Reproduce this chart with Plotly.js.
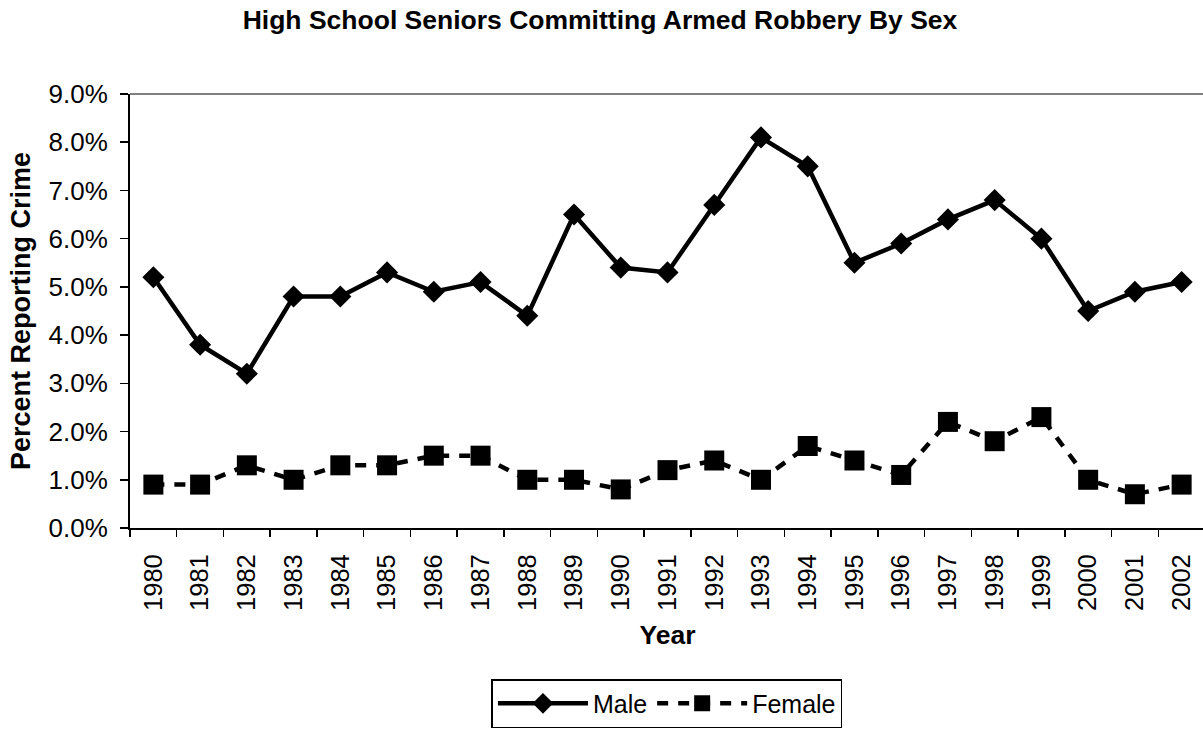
<!DOCTYPE html>
<html>
<head>
<meta charset="utf-8">
<script src="https://cdn.plot.ly/plotly-3.0.1.min.js"></script>
<style>
html,body{margin:0;padding:0;overflow:hidden;background:#fff;}
#chart{width:1206px;height:729px;}
</style>
</head>
<body>
<div id="chart"></div>
<script>
const years = ['1980','1981','1982','1983','1984','1985','1986','1987','1988','1989','1990','1991','1992','1993','1994','1995','1996','1997','1998','1999','2000','2001','2002'];
const male = [5.2,3.8,3.2,4.8,4.8,5.3,4.9,5.1,4.4,6.5,5.4,5.3,6.7,8.1,7.5,5.5,5.9,6.4,6.8,6.0,4.5,4.9,5.1];
const female = [0.9,0.9,1.3,1.0,1.3,1.3,1.5,1.5,1.0,1.0,0.8,1.2,1.4,1.0,1.7,1.4,1.1,2.2,1.8,2.3,1.0,0.7,0.9];
const yTicks = [0,1,2,3,4,5,6,7,8,9];

const FONT = 'Liberation Sans, Arial, Helvetica, sans-serif';

const traces = [
  {
    x: years, y: male, name: 'Male', type: 'scatter', mode: 'lines+markers',
    line: {color: '#000', width: 4.5},
    marker: {symbol: 'diamond', size: 17, color: '#000'}
  },
  {
    x: years, y: female, name: 'Female', type: 'scatter', mode: 'lines+markers',
    line: {color: '#000', width: 4.5, dash: '11px,10px'},
    marker: {symbol: 'square', size: 20, color: '#000'}
  }
];

const layout = {
  width: 1206, height: 729,
  margin: {l: 130, r: 1, t: 94, b: 194, pad: 0},
  paper_bgcolor: '#fff', plot_bgcolor: '#fff',
  font: {family: FONT, color: '#000', size: 25},
  showlegend: true,
  title: {
    text: 'High School Seniors Committing Armed Robbery By Sex',
    font: {family: FONT, size: 26.5, color: '#000', weight: 'bold'},
    xref: 'container', yref: 'container', x: 0.4975, y: 0.9733, xanchor: 'center', yanchor: 'middle'
  },
  xaxis: {
    type: 'category', categoryorder: 'array', categoryarray: years,
    range: [-0.5, years.length - 0.5],
    showgrid: false, zeroline: false,
    showline: true, linecolor: '#000', linewidth: 2,
    ticks: 'outside', ticklen: 7, tickwidth: 1.5, tickcolor: '#000',
    tickson: 'boundaries',
    tickangle: -90,
    ticklabelstandoff: 14,
    tickfont: {family: FONT, size: 25.5, color: '#000'},
    title: {text: 'Year', font: {family: FONT, size: 26.5, color: '#000', weight: 'bold'}, standoff: 16},
    automargin: false, fixedrange: true
  },
  yaxis: {
    range: [0, 9], tickvals: yTicks, ticktext: yTicks.map(v => v.toFixed(1) + '%'),
    showgrid: false, zeroline: false,
    showline: true, linecolor: '#000', linewidth: 2,
    ticks: 'outside', ticklen: 8, tickwidth: 1.5, tickcolor: '#000',
    ticklabelstandoff: 7,
    tickfont: {family: FONT, size: 26, color: '#000'},
    title: {text: 'Percent Reporting Crime', font: {family: FONT, size: 27, color: '#000', weight: 'bold'}, standoff: 10},
    automargin: false, fixedrange: true
  },
  legend: {
    orientation: 'h', x: 0.4995, xanchor: 'center', y: -0.348, yanchor: 'top',
    bordercolor: '#000', borderwidth: 1.5, bgcolor: '#fff',
    font: {family: FONT, size: 25, color: '#000'},
    itemwidth: 90, traceorder: 'normal'
  },
  shapes: [
    {type: 'line', xref: 'paper', yref: 'paper', x0: 0, x1: 1, y0: 1, y1: 1, line: {color: '#808080', width: 2}}
  ]
};

Plotly.newPlot('chart', traces, layout, {staticPlot: true, displayModeBar: false});
</script>
</body>
</html>
